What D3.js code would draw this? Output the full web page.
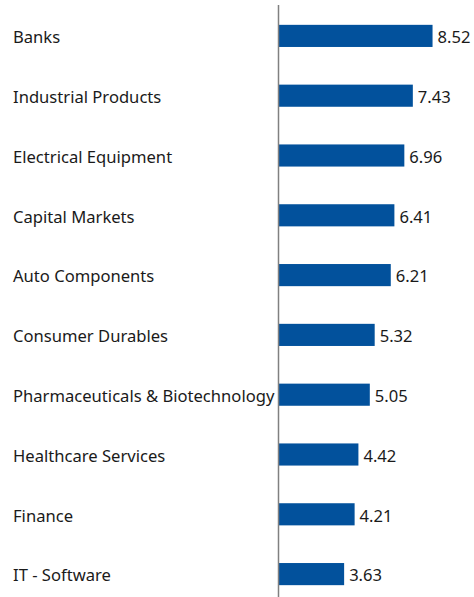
<!DOCTYPE html>
<html>
<head>
<meta charset="utf-8">
<script src="https://cdn.jsdelivr.net/npm/d3@7"></script>
<style>
  html, body { margin: 0; padding: 0; background: #fff; }
</style>
</head>
<body>
<div id="chart"></div>
<script>
const sectors = ["Banks", "Industrial Products", "Electrical Equipment", "Capital Markets",
    "Auto Components", "Consumer Durables", "Pharmaceuticals & Biotechnology",
    "Healthcare Services", "Finance", "IT - Software"];
const weights = [8.52, 7.43, 6.96, 6.41, 6.21, 5.32, 5.05, 4.42, 4.21, 3.63];

const width = 474, height = 597;
const barColor = "#02519C";
const axisX = 278.5;

const svg = d3.select("#chart").append("svg")
    .attr("width", width)
    .attr("height", height)
    .style("font-family", "'Noto Sans', sans-serif");

const x = d3.scaleLinear()
    .domain([0, 10])
    .range([axisX, axisX + 180.8]);

const y = d3.scaleBand()
    .domain(sectors)
    .range([6, 604])
    .paddingInner(0.63)
    .paddingOuter(0.315);

const data = sectors.map((s, i) => ({name: s, value: weights[i]}));

// bars
svg.selectAll("rect.bar")
    .data(data)
    .enter().append("rect")
    .attr("class", "bar")
    .attr("x", x(0))
    .attr("y", d => y(d.name))
    .attr("width", d => x(d.value) - x(0))
    .attr("height", y.bandwidth())
    .attr("fill", barColor);

// category labels
svg.selectAll("text.label")
    .data(data)
    .enter().append("text")
    .attr("class", "label")
    .attr("x", 13)
    .attr("y", d => y(d.name) + y.bandwidth() / 2 + 1.5)
    .attr("dy", "0.35em")
    .attr("font-size", 16.6)
    .attr("fill", "#1a1a1a")
    .text(d => d.name);

// value labels
svg.selectAll("text.value")
    .data(data)
    .enter().append("text")
    .attr("class", "value")
    .attr("x", d => x(d.value) + 5)
    .attr("y", d => y(d.name) + y.bandwidth() / 2 + 1.5)
    .attr("dy", "0.35em")
    .attr("font-size", 16.6)
    .attr("fill", "#1a1a1a")
    .text(d => d.value.toFixed(2));

// vertical axis line
svg.append("line")
    .attr("x1", axisX).attr("x2", axisX)
    .attr("y1", 5).attr("y2", height)
    .attr("stroke", "#808080")
    .attr("stroke-width", 1.5);
</script>
</body>
</html>
